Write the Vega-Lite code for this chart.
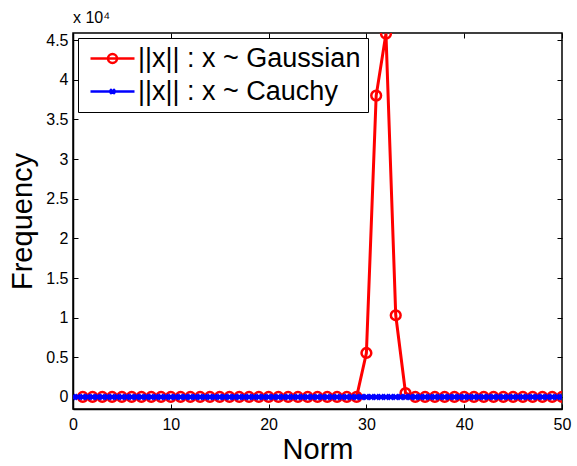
{
  "$schema": "https://vega.github.io/schema/vega-lite/v6.json",
  "width": 489,
  "height": 376,
  "autosize": {"type": "none"},
  "padding": {"left": 73, "top": 33, "right": 15, "bottom": 57},
  "background": "white",
  "config": {
    "font": "Liberation Sans",
    "view": {"stroke": "black", "strokeWidth": 1.5},
    "axis": {"domainColor": "black", "tickColor": "black", "labelColor": "black", "titleColor": "black", "grid": false, "labelFont": "Liberation Sans", "titleFont": "Liberation Sans", "titleFontWeight": "normal", "domainWidth": 1.5, "tickWidth": 1}
  },
  "title": {"text": "x 10⁴", "anchor": "start", "frame": "group", "fontSize": 16, "fontWeight": "normal", "font": "Liberation Sans", "offset": 6, "color": "black"},
  "datasets": {
    "gauss": [
      {"norm": 1, "freq": 0}, {"norm": 2, "freq": 0}, {"norm": 3, "freq": 0}, {"norm": 4, "freq": 0}, {"norm": 5, "freq": 0},
      {"norm": 6, "freq": 0}, {"norm": 7, "freq": 0}, {"norm": 8, "freq": 0}, {"norm": 9, "freq": 0}, {"norm": 10, "freq": 0},
      {"norm": 11, "freq": 0}, {"norm": 12, "freq": 0}, {"norm": 13, "freq": 0}, {"norm": 14, "freq": 0}, {"norm": 15, "freq": 0},
      {"norm": 16, "freq": 0}, {"norm": 17, "freq": 0}, {"norm": 18, "freq": 0}, {"norm": 19, "freq": 0}, {"norm": 20, "freq": 0},
      {"norm": 21, "freq": 0}, {"norm": 22, "freq": 0}, {"norm": 23, "freq": 0}, {"norm": 24, "freq": 0}, {"norm": 25, "freq": 0},
      {"norm": 26, "freq": 0}, {"norm": 27, "freq": 0}, {"norm": 28, "freq": 0}, {"norm": 29, "freq": 20}, {"norm": 30, "freq": 5550},
      {"norm": 31, "freq": 38000}, {"norm": 32, "freq": 45800}, {"norm": 33, "freq": 10300}, {"norm": 34, "freq": 500}, {"norm": 35, "freq": 0},
      {"norm": 36, "freq": 0}, {"norm": 37, "freq": 0}, {"norm": 38, "freq": 0}, {"norm": 39, "freq": 0}, {"norm": 40, "freq": 0},
      {"norm": 41, "freq": 0}, {"norm": 42, "freq": 0}, {"norm": 43, "freq": 0}, {"norm": 44, "freq": 0}, {"norm": 45, "freq": 0},
      {"norm": 46, "freq": 0}, {"norm": 47, "freq": 0}, {"norm": 48, "freq": 0}, {"norm": 49, "freq": 0}, {"norm": 50, "freq": 0}
    ],
    "cauchy": [
      {"norm": 0, "freq": 0}, {"norm": 0.5, "freq": 0}, {"norm": 1, "freq": 0}, {"norm": 1.5, "freq": 0}, {"norm": 2, "freq": 0}, {"norm": 2.5, "freq": 0},
      {"norm": 3, "freq": 0}, {"norm": 3.5, "freq": 0}, {"norm": 4, "freq": 0}, {"norm": 4.5, "freq": 0}, {"norm": 5, "freq": 0}, {"norm": 5.5, "freq": 0},
      {"norm": 6, "freq": 0}, {"norm": 6.5, "freq": 0}, {"norm": 7, "freq": 0}, {"norm": 7.5, "freq": 0}, {"norm": 8, "freq": 0}, {"norm": 8.5, "freq": 0},
      {"norm": 9, "freq": 0}, {"norm": 9.5, "freq": 0}, {"norm": 10, "freq": 0}, {"norm": 10.5, "freq": 0}, {"norm": 11, "freq": 0}, {"norm": 11.5, "freq": 0},
      {"norm": 12, "freq": 0}, {"norm": 12.5, "freq": 0}, {"norm": 13, "freq": 0}, {"norm": 13.5, "freq": 0}, {"norm": 14, "freq": 0}, {"norm": 14.5, "freq": 0},
      {"norm": 15, "freq": 0}, {"norm": 15.5, "freq": 0}, {"norm": 16, "freq": 0}, {"norm": 16.5, "freq": 0}, {"norm": 17, "freq": 0}, {"norm": 17.5, "freq": 0},
      {"norm": 18, "freq": 0}, {"norm": 18.5, "freq": 0}, {"norm": 19, "freq": 0}, {"norm": 19.5, "freq": 0}, {"norm": 20, "freq": 0}, {"norm": 20.5, "freq": 0},
      {"norm": 21, "freq": 0}, {"norm": 21.5, "freq": 0}, {"norm": 22, "freq": 0}, {"norm": 22.5, "freq": 0}, {"norm": 23, "freq": 0}, {"norm": 23.5, "freq": 0},
      {"norm": 24, "freq": 0}, {"norm": 24.5, "freq": 0}, {"norm": 25, "freq": 0}, {"norm": 25.5, "freq": 0}, {"norm": 26, "freq": 0}, {"norm": 26.5, "freq": 0},
      {"norm": 27, "freq": 0}, {"norm": 27.5, "freq": 0}, {"norm": 28, "freq": 0}, {"norm": 28.5, "freq": 0}, {"norm": 29, "freq": 0}, {"norm": 29.5, "freq": 0},
      {"norm": 30, "freq": 0}, {"norm": 30.5, "freq": 0}, {"norm": 31, "freq": 0}, {"norm": 31.5, "freq": 0}, {"norm": 32, "freq": 0}, {"norm": 32.5, "freq": 0},
      {"norm": 33, "freq": 0}, {"norm": 33.5, "freq": 0}, {"norm": 34, "freq": 0}, {"norm": 34.5, "freq": 0}, {"norm": 35, "freq": 0}, {"norm": 35.5, "freq": 0},
      {"norm": 36, "freq": 0}, {"norm": 36.5, "freq": 0}, {"norm": 37, "freq": 0}, {"norm": 37.5, "freq": 0}, {"norm": 38, "freq": 0}, {"norm": 38.5, "freq": 0},
      {"norm": 39, "freq": 0}, {"norm": 39.5, "freq": 0}, {"norm": 40, "freq": 0}, {"norm": 40.5, "freq": 0}, {"norm": 41, "freq": 0}, {"norm": 41.5, "freq": 0},
      {"norm": 42, "freq": 0}, {"norm": 42.5, "freq": 0}, {"norm": 43, "freq": 0}, {"norm": 43.5, "freq": 0}, {"norm": 44, "freq": 0}, {"norm": 44.5, "freq": 0},
      {"norm": 45, "freq": 0}, {"norm": 45.5, "freq": 0}, {"norm": 46, "freq": 0}, {"norm": 46.5, "freq": 0}, {"norm": 47, "freq": 0}, {"norm": 47.5, "freq": 0},
      {"norm": 48, "freq": 0}, {"norm": 48.5, "freq": 0}, {"norm": 49, "freq": 0}, {"norm": 49.5, "freq": 0}, {"norm": 50, "freq": 0}
    ],
    "series": [
      {"series": "||x|| : x ~ Gaussian"},
      {"series": "||x|| : x ~ Cauchy"}
    ]
  },
  "layer": [
    {
      "data": {"name": "gauss"},
      "layer": [
        {"mark": {"type": "line", "color": "#ff0000", "strokeWidth": 3, "clip": true}},
        {"mark": {"type": "point", "shape": "circle", "filled": false, "color": "#ff0000", "size": 95, "strokeWidth": 2.5, "opacity": 1, "clip": true}}
      ],
      "encoding": {
        "x": {"field": "norm", "type": "quantitative", "scale": {"domain": [0, 50], "nice": false, "zero": false},
              "axis": {"orient": "bottom", "values": [0, 10, 20, 30, 40, 50], "tickSize": -5, "labelPadding": 12, "labelFontSize": 16, "title": "Norm", "titleFontSize": 29, "titlePadding": 3, "labelFlush": false}},
        "y": {"field": "freq", "type": "quantitative", "scale": {"domain": [-1513, 45885], "nice": false, "zero": false},
              "axis": {"orient": "left", "values": [0, 5000, 10000, 15000, 20000, 25000, 30000, 35000, 40000, 45000], "labelExpr": "format(datum.value / 10000, '~g')", "tickSize": -5, "labelPadding": 10, "labelFontSize": 16, "title": "Frequency", "titleFontSize": 29, "titlePadding": 8}}
      }
    },
    {
      "data": {"name": "cauchy"},
      "layer": [
        {"mark": {"type": "line", "color": "#0000ff", "strokeWidth": 3, "clip": true}},
        {"mark": {"type": "point", "shape": "M-1,-1L1,1M-1,1L1,-1", "filled": false, "color": "#0000ff", "size": 25, "strokeWidth": 2.5, "opacity": 1, "clip": true}}
      ],
      "encoding": {
        "x": {"field": "norm", "type": "quantitative", "scale": {"domain": [0, 50], "nice": false, "zero": false},
              "axis": {"orient": "top", "values": [0, 10, 20, 30, 40, 50], "tickSize": -5, "labels": false, "title": null, "domain": false}},
        "y": {"field": "freq", "type": "quantitative", "scale": {"domain": [-1513, 45885], "nice": false, "zero": false},
              "axis": {"orient": "right", "values": [0, 5000, 10000, 15000, 20000, 25000, 30000, 35000, 40000, 45000], "tickSize": -5, "labels": false, "title": null, "domain": false}}
      }
    },
    {
      "data": {"name": "series"},
      "transform": [{"filter": "false"}],
      "mark": {"type": "point", "filled": false, "strokeWidth": 2.5},
      "encoding": {
        "color": {"field": "series", "type": "nominal",
                  "scale": {"domain": ["||x|| : x ~ Gaussian", "||x|| : x ~ Cauchy"], "range": ["#ff0000", "#0000ff"]},
                  "legend": {"title": null, "orient": "top-left", "offset": 5, "labelFontSize": 27, "labelFont": "Liberation Sans", "labelColor": "black", "symbolSize": 256, "symbolStrokeWidth": 2.5, "symbolOpacity": 1, "rowPadding": 5, "labelOffset": 26, "padding": 7, "strokeColor": "black", "fillColor": "white", "labelLimit": 400}},
        "shape": {"field": "series", "type": "nominal",
                  "scale": {"domain": ["||x|| : x ~ Gaussian", "||x|| : x ~ Cauchy"], "range": ["M-1,0H4.5M1.19,0A0.56,0.56 0 1,1 2.31,0A0.56,0.56 0 1,1 1.19,0", "M-1,0H4.5M1.45,-0.3L2.05,0.3M1.45,0.3L2.05,-0.3"]},
                  "legend": {"title": null, "orient": "top-left", "offset": 5, "labelFontSize": 27, "labelFont": "Liberation Sans", "labelColor": "black", "symbolSize": 256, "symbolStrokeWidth": 2.5, "symbolOpacity": 1, "rowPadding": 5, "labelOffset": 26, "padding": 7, "strokeColor": "black", "fillColor": "white", "labelLimit": 400}}
      }
    }
  ],
  "resolve": {"scale": {"x": "independent", "y": "independent"}, "axis": {"x": "independent", "y": "independent"}}
}
